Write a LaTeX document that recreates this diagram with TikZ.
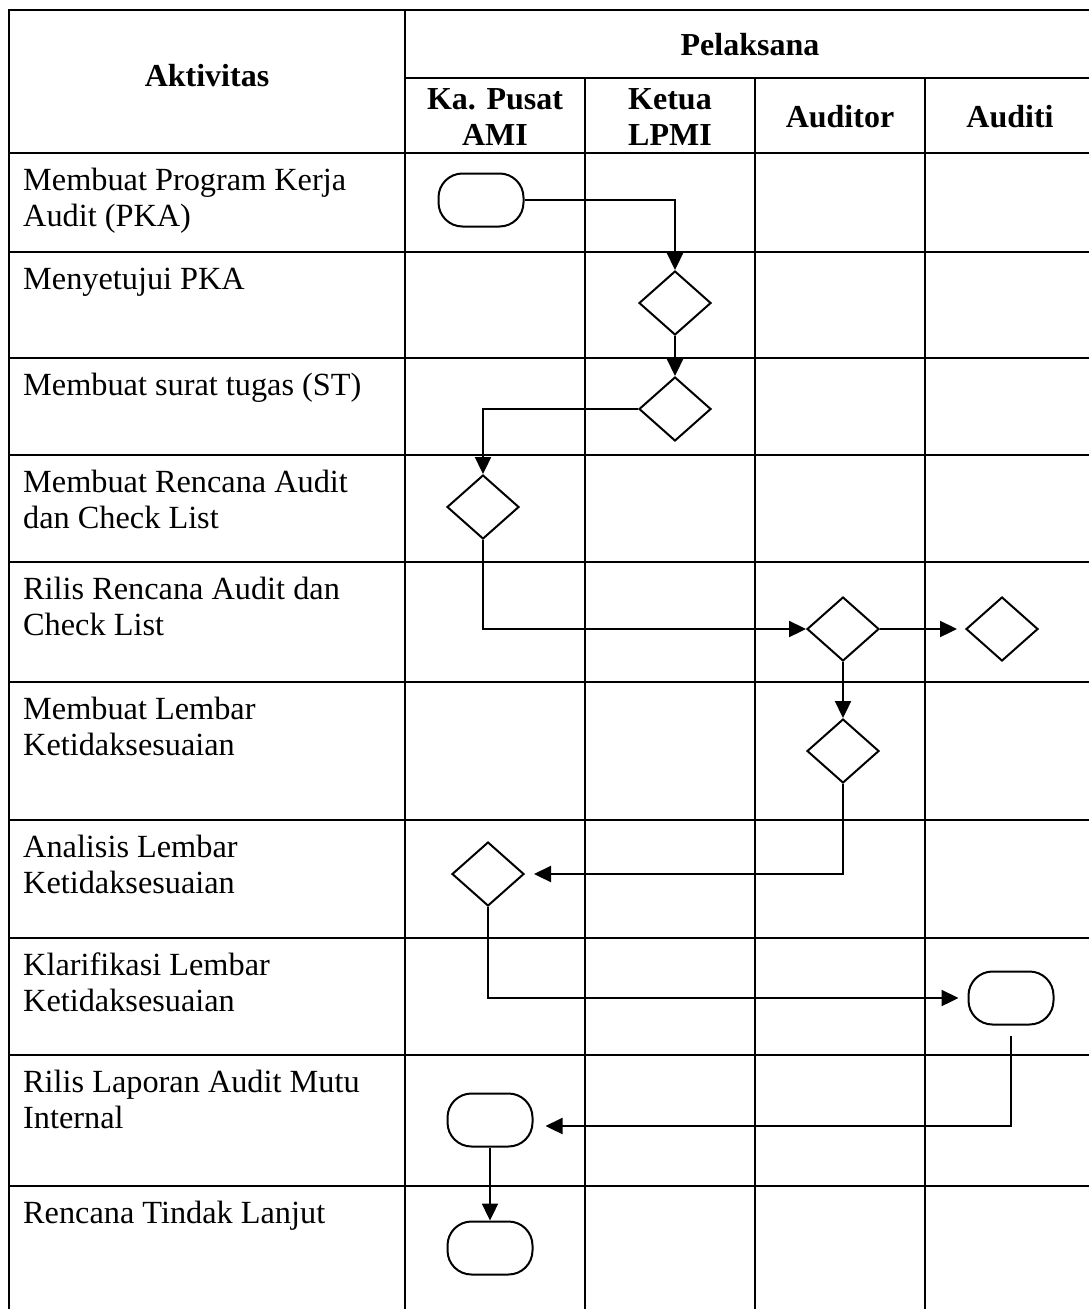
\documentclass[tikz,border=0pt]{standalone}
\usepackage{fontspec}
\setmainfont{Liberation Serif}
\usetikzlibrary{shapes.geometric,arrows.meta}
\begin{document}
\begin{tikzpicture}[x=1pt,y=-1pt,
  grid/.style={line width=2.6pt,line cap=rect},
  conn/.style={line width=2.3pt},
  arr/.style={conn,-{Triangle[length=17pt,width=16pt]}},
  term/.style={draw,line width=2pt,rounded corners=24pt,minimum width=85pt,minimum height=53pt,inner sep=0pt},
  dec/.style={draw,line width=2pt,shape=diamond,minimum width=72pt,minimum height=64pt,inner sep=0pt},
  act/.style={anchor=base west,align=left,inner sep=0pt,font=\fontsize{32.3}{36.5}\selectfont},
  hdr/.style={anchor=base,align=center,inner sep=0pt,font=\fontsize{32}{36}\selectfont\bfseries},
]
\path[use as bounding box] (0,0) rectangle (1089,1309);
\begin{scope}
\clip (0,0) rectangle (1089,1309);
% table grid
\draw[grid] (9,10) -- (1096,10);
\draw[grid] (405,78) -- (1096,78);
\foreach \yy in {153,252,358,455,562,682,820,938,1055,1186}
  \draw[grid] (9,\yy) -- (1096,\yy);
\draw[grid] (9,10) -- (9,1320);
\draw[grid] (405,10) -- (405,1320);
\draw[grid] (1096,10) -- (1096,1320);
\foreach \xx in {585,755,925}
  \draw[grid] (\xx,78) -- (\xx,1320);
% headers (base anchor = baseline of last line)
\node[hdr] (hAkt) at (207,86) {Aktivitas};
\node[hdr] (hPel) at (750,55) {Pelaksana};
\node[hdr] (hKa) at (495,145) {Ka. Pusat\\AMI};
\node[hdr] (hKe) at (670,145) {Ketua\\LPMI};
\node[hdr] (hAu) at (840,127) {Auditor};
\node[hdr] (hAi) at (1010,127) {Auditi};
% activities (base anchor = baseline of last line)
\node[act] (a1) at (23,226.5) {Membuat Program Kerja\\Audit (PKA)};
\node[act] (a2) at (23,289) {Menyetujui PKA};
\node[act] (a3) at (23,395) {Membuat surat tugas (ST)};
\node[act] (a4) at (23,528.5) {Membuat Rencana Audit\\dan Check List};
\node[act] (a5) at (23,635.5) {Rilis Rencana Audit dan\\Check List};
\node[act] (a6) at (23,755.5) {Membuat Lembar\\Ketidaksesuaian};
\node[act] (a7) at (23,893.5) {Analisis Lembar\\Ketidaksesuaian};
\node[act] (a8) at (23,1011.5) {Klarifikasi Lembar\\Ketidaksesuaian};
\node[act] (a9) at (23,1128.5) {Rilis Laporan Audit Mutu\\Internal};
\node[act] (a10) at (23,1223) {Rencana Tindak Lanjut};
% flow shapes
\node[term] (r1) at (481,200) {};
\node[dec] (d1) at (675,303) {};
\node[dec] (d2) at (675,409) {};
\node[dec] (d3) at (483,507) {};
\node[dec] (d4) at (843,629) {};
\node[dec] (d5) at (1002,629) {};
\node[dec] (d6) at (843,751) {};
\node[dec] (d7) at (488,874) {};
\node[term] (r2) at (1011,998) {};
\node[term] (r3) at (490,1120) {};
\node[term] (r4) at (490,1248) {};
% connectors
\draw[arr] (r1.east) -| (d1.north);
\draw[arr] (d1.south) -- (d2.north);
\draw[arr] (d2.west) -| (d3.north);
\draw[arr] (d3.south) |- (d4.west);
\draw[arr,shorten >=8pt] (d4.east) -- (d5.west);
\draw[arr] (d4.south) -- (d6.north);
\draw[arr,shorten >=9pt] (d6.south) |- (d7.east);
\draw[arr,shorten >=9pt] (d7.south) |- (r2.west);
\draw[arr,shorten <=10pt,shorten >=12pt] (r2.south) |- ([yshift=-6pt]r3.east);
\draw[arr] (r3.south) -- (r4.north);
\end{scope}
\end{tikzpicture}
\end{document}
